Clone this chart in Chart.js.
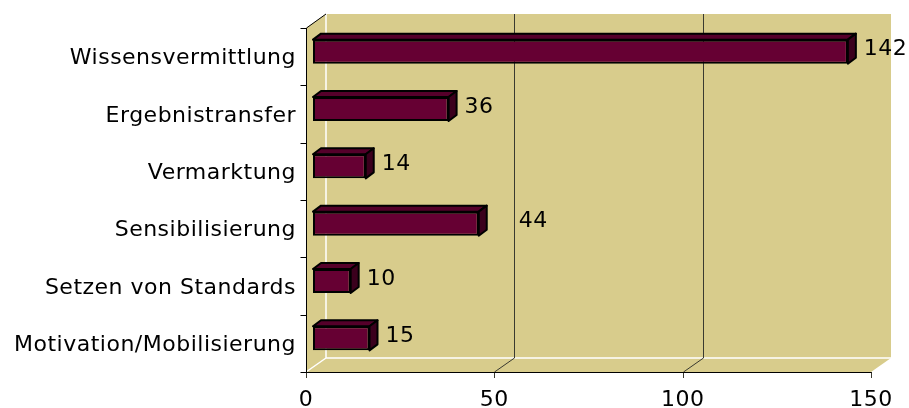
<!DOCTYPE html>
<html lang="de">
<head>
<meta charset="utf-8">
<title>Aufgabenbereiche</title>
<script src="https://cdn.jsdelivr.net/npm/chart.js@4.4.1/dist/chart.umd.min.js"></script>
<style>
    html, body { margin: 0; padding: 0; background: #fff; }
    #wrap { width: 909px; height: 408px; position: relative; }
</style>
</head>
<body>
<div id="wrap"><canvas id="chart"></canvas></div>
<script>
/* horizontal 3D-style bar chart, Excel look */
const categories = [
    "Wissensvermittlung",
    "Ergebnistransfer",
    "Vermarktung",
    "Sensibilisierung",
    "Setzen von Standards",
    "Motivation/Mobilisierung"
];
const counts = [142, 36, 14, 44, 10, 15];
const xTicks = [0, 50, 100, 150];

const WALL = "#d8cc8c";
const FRONT = { dx: -7, dy: 5 };   // front plane relative to the bars
const BACK = { dx: 13, dy: -9 };   // back wall relative to the bars
const BAR_DEPTH = { dx: 8, dy: 6 };
const FONT_SIZE = 22;

/* ---------- walls, floor, grid ---------- */
const box3d = {
    id: "box3d",
    beforeDraw(chart) {
        const ctx = chart.ctx;
        ctx.letterSpacing = "0.5px";
        const a = chart.chartArea;
        const xs = chart.scales.x;
        const L = a.left, R = xs.getPixelForValue(xTicks[xTicks.length - 1]);
        const T = a.top, B = a.bottom;

        ctx.save();
        ctx.fillStyle = WALL;
        // back wall
        ctx.fillRect(L + BACK.dx, T + BACK.dy, R - L, B - T);
        // side wall
        ctx.beginPath();
        ctx.moveTo(L + FRONT.dx, T + FRONT.dy);
        ctx.lineTo(L + BACK.dx, T + BACK.dy);
        ctx.lineTo(L + BACK.dx, B + BACK.dy);
        ctx.lineTo(L + FRONT.dx, B + FRONT.dy);
        ctx.closePath();
        ctx.fill();
        // floor
        ctx.beginPath();
        ctx.moveTo(L + FRONT.dx, B + FRONT.dy);
        ctx.lineTo(L + BACK.dx, B + BACK.dy);
        ctx.lineTo(R + BACK.dx, B + BACK.dy);
        ctx.lineTo(R + FRONT.dx, B + FRONT.dy);
        ctx.closePath();
        ctx.fill();

        // light corner edges
        ctx.strokeStyle = "#ffffff";
        ctx.lineWidth = 1.5;
        ctx.beginPath();
        ctx.moveTo(L + BACK.dx, T + BACK.dy);
        ctx.lineTo(L + BACK.dx, B + BACK.dy);
        ctx.lineTo(R + BACK.dx, B + BACK.dy);
        ctx.moveTo(L + FRONT.dx, B + FRONT.dy);
        ctx.lineTo(L + BACK.dx, B + BACK.dy);
        ctx.stroke();

        // value grid lines: back wall + floor
        ctx.lineWidth = 1;
        ctx.strokeStyle = "#3a3a30";
        xTicks.forEach(v => {
            const px = Math.round(xs.getPixelForValue(v)) + 0.5;
            ctx.beginPath();
            if (v !== xTicks[0] && v !== xTicks[xTicks.length - 1]) {
                ctx.moveTo(px + BACK.dx, T + BACK.dy);
                ctx.lineTo(px + BACK.dx, B + BACK.dy);
                ctx.lineTo(px + FRONT.dx, B + FRONT.dy);
            }
            ctx.moveTo(px + FRONT.dx, B + FRONT.dy);
            ctx.lineTo(px + FRONT.dx, B + FRONT.dy + 6);
            ctx.stroke();
        });

        // axes
        ctx.strokeStyle = "#000";
        ctx.beginPath();
        const fl = Math.round(L + FRONT.dx) + 0.5, fb = Math.round(B + FRONT.dy) + 0.5;
        ctx.moveTo(L + BACK.dx, T + BACK.dy);
        ctx.lineTo(fl, T + FRONT.dy);
        ctx.lineTo(fl, fb);
        ctx.lineTo(Math.round(R + FRONT.dx) + 0.5, fb);
        const n = categories.length;
        for (let i = 0; i <= n; i++) {
            const y = Math.round(T + FRONT.dy + i * (B - T) / n) + 0.5;
            ctx.moveTo(fl - 6, y);
            ctx.lineTo(fl, y);
        }
        ctx.stroke();
        ctx.restore();
    }
};

/* ---------- bar tops, sides, value labels ---------- */
const bars3d = {
    id: "bars3d",
    afterDatasetsDraw(chart, args, opts) {
        const ctx = chart.ctx;
        const meta = chart.getDatasetMeta(0);
        const { dx, dy } = BAR_DEPTH;
        ctx.save();
        ctx.lineWidth = 2;
        ctx.strokeStyle = "#000";
        ctx.lineJoin = "round";
        meta.data.forEach((bar, i) => {
            const p = bar.getProps(["x", "y", "base", "height"], true);
            const left = p.base, right = p.x;
            const top = p.y - p.height / 2, bottom = p.y + p.height / 2;

            ctx.fillStyle = "#55002a";
            ctx.beginPath();
            ctx.moveTo(left, top);
            ctx.lineTo(left + dx, top - dy);
            ctx.lineTo(right + dx, top - dy);
            ctx.lineTo(right, top);
            ctx.closePath();
            ctx.fill();
            ctx.stroke();

            ctx.fillStyle = "#3b001d";
            ctx.beginPath();
            ctx.moveTo(right, top);
            ctx.lineTo(right + dx, top - dy);
            ctx.lineTo(right + dx, bottom - dy);
            ctx.lineTo(right, bottom);
            ctx.closePath();
            ctx.fill();
            ctx.stroke();

            ctx.fillStyle = "#000";
            ctx.font = opts.font;
            ctx.textAlign = "left";
            ctx.textBaseline = "middle";
            const shift = (opts.shift && opts.shift[i]) || 0;
            ctx.fillText(String(counts[i]), right + dx + opts.gap + shift, p.y - 2);
        });
        ctx.restore();
    }
};

function noScalePadding(s) {
    s.paddingLeft = 0;
    s.paddingRight = 0;
    s.paddingTop = 0;
    s.paddingBottom = 0;
}

new Chart(document.getElementById("chart"), {
    type: "bar",
    data: {
        labels: categories,
        datasets: [{
            data: counts,
            backgroundColor: "#660033",
            borderColor: "#000",
            borderWidth: 2,
            borderSkipped: false,
            categoryPercentage: 1,
            barPercentage: 0.42
        }]
    },
    options: {
        indexAxis: "y",
        responsive: true,
        maintainAspectRatio: false,
        animation: false,
        events: [],
        layout: { padding: { left: 0, right: 31, top: 23, bottom: 0 } },
        plugins: {
            legend: { display: false },
            tooltip: { enabled: false },
            bars3d: { font: FONT_SIZE + "px 'DejaVu Sans'", gap: 8, shift: { 3: 24 } }
        },
        scales: {
            x: {
                min: 0, max: 150,
                afterBuildTicks: s => { s.ticks = xTicks.map(v => ({ value: v })); },
                afterFit: s => { s.height = 41; noScalePadding(s); },
                grid: { display: false, drawTicks: false },
                border: { display: false },
                ticks: {
                    color: "#000",
                    font: { family: "DejaVu Sans", size: FONT_SIZE },
                    padding: 20,
                    labelOffset: FRONT.dx,
                    maxRotation: 0
                }
            },
            y: {
                afterFit: s => { s.width = 313; noScalePadding(s); },
                grid: { display: false, drawTicks: false },
                border: { display: false },
                ticks: {
                    color: "#000",
                    font: { family: "DejaVu Sans", size: FONT_SIZE },
                    padding: 17,
                    labelOffset: FRONT.dy + 2
                }
            }
        }
    },
    plugins: [box3d, bars3d]
});
</script>
</body>
</html>
